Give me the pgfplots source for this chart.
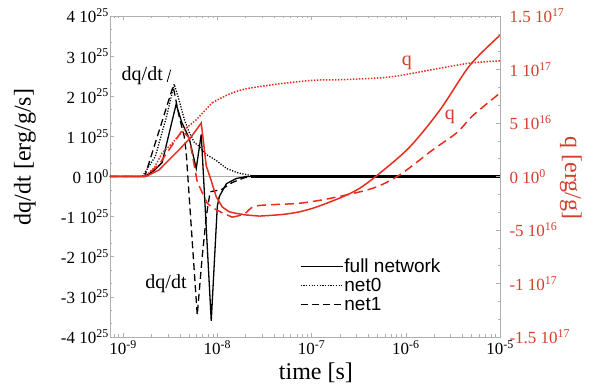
\documentclass[border=0pt]{standalone}
\usepackage{fontspec}
\setmainfont{Liberation Serif}
\newfontfamily\legfont{Liberation Sans}
\usepackage{pgfplots}
\pgfplotsset{compat=1.18}
\definecolor{qred}{RGB}{232,45,30}
\definecolor{qlab}{RGB}{212,62,42}
\definecolor{axgray}{RGB}{175,175,175}
\begin{document}
\begin{tikzpicture}
\path[use as bounding box] (-110pt,-53pt) rectangle (485pt,337pt);
\begin{axis}[
  at={(0pt,0pt)}, anchor=south west,
  scale only axis, width=390pt, height=321pt,
  xmode=log, xmin=7.27e-10, xmax=1e-5,
  ymin=-4, ymax=4,
  axis line style={axgray, line width=0.6pt},
  tick style={axgray, line width=0.5pt},
  major tick length=4pt, minor tick length=2.5pt,
  tick align=inside,
  ytick pos=left,
  xtick={1e-9,1e-8,1e-7,1e-6,1e-5},
  minor xtick={8e-10,9e-10,2e-9,3e-9,4e-9,5e-9,6e-9,7e-9,8e-9,9e-9,2e-8,3e-8,4e-8,5e-8,6e-8,7e-8,8e-8,9e-8,2e-7,3e-7,4e-7,5e-7,6e-7,7e-7,8e-7,9e-7,2e-6,3e-6,4e-6,5e-6,6e-6,7e-6,8e-6,9e-6},
  xticklabels={10\textsuperscript{-9},10\textsuperscript{-8},10\textsuperscript{-7},10\textsuperscript{-6},10\textsuperscript{-5}},
  ytick={-4,-3,-2,-1,0,1,2,3,4},
  yticklabels={-4 10\textsuperscript{25},-3 10\textsuperscript{25},-2 10\textsuperscript{25},-1 10\textsuperscript{25},0 10\textsuperscript{0},1 10\textsuperscript{25},2 10\textsuperscript{25},3 10\textsuperscript{25},4 10\textsuperscript{25}},
  minor y tick num=2,
  ticklabel style={font=\fontsize{17}{20}\selectfont, text=black},
  yticklabel style={inner sep=1pt},
  xlabel={time [s]},
  ylabel={dq/dt [erg/g/s]},
  label style={font=\fontsize{24}{28}\selectfont},
  xlabel style={at={(axis description cs:0.528,-0.112)}, anchor=center},
  ylabel style={at={(axis description cs:-0.218,0.561)}, anchor=center},
  legend style={at={(axis description cs:0.487,0.247)}, anchor=north west,
    draw=none, fill=none, font=\legfont\fontsize{19}{21}\selectfont,
    row sep=2pt, inner sep=0pt, nodes={inner sep=1pt}},
  legend cell align=left,
  legend image code/.code={\draw[#1, line width=1pt] (0pt,0pt) -- (40pt,0pt); \path (0pt,0pt) -- (42pt,0pt);},
]
\addplot[axgray, line width=0.4pt, forget plot] coordinates {(7.27e-10,0) (1e-5,0)};
\addplot[black, line width=1.3pt] coordinates {
(7.27e-10,0) (1.7e-9,0) (2.14e-9,0.15) (2.6e-9,0.35) (3.66e-9,1.8) (4.2e-9,1.35)
(5.04e-9,0.95) (5.98e-9,0.2) (6.76e-9,1.05) (8.63e-9,-3.6) (1.0e-8,-0.75)
(1.05e-8,-0.5) (1.25e-8,-0.18) (1.59e-8,-0.05) (2.04e-8,0) (1e-5,0)};
\addlegendentry{full network}
\addplot[black, line width=1.3pt, dash pattern=on 1.2pt off 1.5pt] coordinates {
(7.27e-10,0) (1.6e-9,0) (2.2e-9,0.5) (2.9e-9,1.5) (3.49e-9,2.3) (3.94e-9,1.9)
(4.5e-9,1.4) (5.04e-9,1.1) (5.7e-9,0.85) (6.44e-9,0.75) (7.64e-9,0.55)
(9.75e-9,0.4) (1.25e-8,0.2) (1.6e-8,0.1) (2.0e-8,0.05) (2.6e-8,0) (1e-5,0)};
\addlegendentry{net0}
\addplot[black, line width=1.3pt, dash pattern=on 7pt off 4pt] coordinates {
(7.27e-10,0) (1.7e-9,0) (3.4e-9,2.25) (3.94e-9,1.5) (4.46e-9,1.0) (4.68e-9,0.6)
(6.13e-9,-3.45) (6.92e-9,-2.0) (7.64e-9,-1.0) (8.4e-9,-0.38) (1.1e-8,-0.33)
(1.44e-8,-0.15) (1.94e-8,-0.03) (2.4e-8,0) (1e-5,0)};
\addlegendentry{net1}
\addplot[black, line width=2.6pt, forget plot] coordinates {(2.3e-8,0) (1e-5,0)};
\node[font=\fontsize{20}{22}\selectfont] at (axis cs:1.6e-9,2.5) {dq/dt};
\node[font=\fontsize{20}{22}\selectfont] at (axis cs:2.86e-9,-2.66) {dq/dt};
\draw[black, line width=0.8pt] (axis cs:2.94e-9,2.36) -- (axis cs:3.2e-9,2.66);
\end{axis}
\begin{axis}[
  at={(0pt,0pt)}, anchor=south west,
  scale only axis, width=390pt, height=321pt,
  xmode=log, xmin=7.27e-10, xmax=1e-5,
  ymin=-15, ymax=15,
  axis x line=none,
  axis y line*=right,
  y axis line style={-, axgray, line width=0.6pt},
  tick style={axgray, line width=0.5pt},
  major tick length=4pt, minor tick length=2.5pt,
  tick align=inside,
  ytick={-15,-10,-5,0,5,10,15},
  yticklabels={-1.5 10\textsuperscript{17},-1 10\textsuperscript{17},-5 10\textsuperscript{16},0 10\textsuperscript{0},5 10\textsuperscript{16},1 10\textsuperscript{17},1.5 10\textsuperscript{17}},
  minor y tick num=2,
  yticklabel style={font=\fontsize{17}{20}\selectfont, text=qlab, xshift=6pt},
  ylabel={q [erg/g]},
  ylabel style={font=\fontsize{24}{28}\selectfont, text=qlab, at={(axis description cs:1.182,0.495)}, anchor=center, rotate=180},
]
% full network q
\addplot[qred, line width=1.5pt] coordinates {
(7.27e-10,0) (1.75e-9,0) (2.4e-9,0.6) (3.94e-9,2.5) (5.29e-9,3.7) (6.76e-9,5.0)
(7.64e-9,1.0) (8.63e-9,-0.4) (9.75e-9,-1.9) (1.13e-8,-2.85) (1.34e-8,-3.3)
(1.59e-8,-3.45) (2.04e-8,-3.6) (2.8e-8,-3.7)};
\addplot[qred, line width=1.5pt, smooth, tension=0.5] coordinates {
(2.8e-8,-3.7) (4.91e-8,-3.55) (7.45e-8,-3.3) (1.13e-7,-2.85) (2.14e-7,-1.9)
(3.24e-7,-1.1) (5.29e-7,0.3) (1.1e-6,2.75) (2.3e-6,6.2) (4.8e-6,10.4) (1e-5,13.2)};
% net0 q
\addplot[qred, line width=1.5pt, dash pattern=on 1.5pt off 1.5pt] coordinates {
(7.27e-10,0) (1.7e-9,0) (2.14e-9,0.8) (2.6e-9,2.2) (3.32e-9,3.1) (4.24e-9,4.2)
(5.98e-9,5.3) (8.85e-9,6.9)};
\addplot[qred, line width=1.5pt, dash pattern=on 1.5pt off 1.5pt, smooth, tension=0.5] coordinates {
(8.85e-9,6.9) (1.34e-8,7.7) (2.04e-8,8.2) (4.91e-8,8.7) (1.1e-7,9.0) (2.14e-7,9.05)
(6.76e-7,9.3) (1.94e-6,10.0) (4.8e-6,10.6) (1e-5,10.8)};
% net1 q
\addplot[qred, line width=1.5pt, dash pattern=on 9pt off 5pt] coordinates {
(7.27e-10,0) (1.6e-9,0) (1.76e-9,0.1) (2.4e-9,1.1) (4.24e-9,4.3) (5.04e-9,3.6)
(6.13e-9,-0.5) (6.92e-9,-1.5) (7.83e-9,-2.5) (8.85e-9,-2.9) (1.13e-8,-3.4)
(1.44e-8,-3.8)};
\addplot[qred, line width=1.5pt, dash pattern=on 9pt off 5pt, smooth, tension=0.5] coordinates {
(1.44e-8,-3.8) (1.94e-8,-3.5) (2.6e-8,-2.75) (7.45e-8,-2.5) (1.67e-7,-2.0)
(4.46e-7,-1.1) (8.63e-7,0.15) (1.94e-6,2.5) (3.49e-6,4.1) (5.16e-6,5.7) (1e-5,7.8)};
\node[font=\fontsize{20}{22}\selectfont, text=qlab] at (axis cs:1.03e-6,10.6) {q};
\node[font=\fontsize{20}{22}\selectfont, text=qlab] at (axis cs:2.94e-6,5.56) {q};
\end{axis}
\end{tikzpicture}
\end{document}
